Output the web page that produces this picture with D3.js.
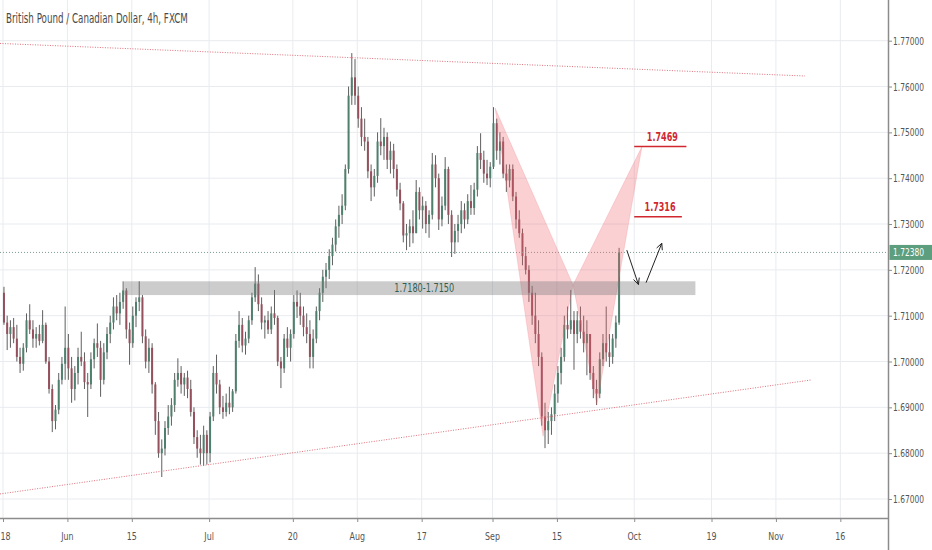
<!DOCTYPE html>
<html><head><meta charset="utf-8">
<script src="https://cdn.jsdelivr.net/npm/d3@7/dist/d3.min.js"></script>
<style>html,body{margin:0;padding:0;background:#fff;overflow:hidden}</style>
</head><body><svg id="c" width="932" height="550"></svg>
<script>
// ---- DATA (GBP/CAD, half-day candles) ----
const firstOpen = 1.7150;
const highs = [1.7163,1.7100,1.7090,1.7095,1.7080,1.7030,1.7040,1.7105,1.7125,1.7090,
1.7075,1.7080,1.7112,1.7085,1.7010,1.6950,1.6905,1.6975,1.7010,1.7120,
1.7060,1.7010,1.6990,1.7030,1.7065,1.7020,1.6975,1.7020,1.7050,1.7083,
1.7045,1.7040,1.7075,1.7100,1.7140,1.7145,1.7150,1.7175,1.7160,1.7085,
1.7120,1.7140,1.7175,1.7145,1.7070,1.7050,1.7040,1.6955,1.6890,1.6830,
1.6870,1.6905,1.6920,1.6975,1.7007,1.6990,1.6975,1.6980,1.6960,1.6900,
1.6850,1.6840,1.6860,1.6850,1.6890,1.6990,1.7015,1.6960,1.6925,1.6930,
1.6945,1.6940,1.7060,1.7110,1.7095,1.7065,1.7100,1.7150,1.7206,1.7190,
1.7140,1.7100,1.7110,1.7120,1.7156,1.7100,1.7010,1.7060,1.7075,1.7070,
1.7145,1.7155,1.7150,1.7120,1.7105,1.7090,1.7070,1.7120,1.7160,1.7200,
1.7215,1.7245,1.7270,1.7310,1.7340,1.7365,1.7430,1.7600,1.7673,1.7660,
1.7600,1.7555,1.7530,1.7490,1.7430,1.7420,1.7500,1.7531,1.7510,1.7500,
1.7480,1.7475,1.7430,1.7390,1.7350,1.7300,1.7310,1.7330,1.7396,1.7380,
1.7360,1.7350,1.7330,1.7455,1.7450,1.7410,1.7360,1.7446,1.7425,1.7330,
1.7300,1.7320,1.7350,1.7345,1.7365,1.7385,1.7390,1.7470,1.7498,1.7460,
1.7440,1.7435,1.7555,1.7530,1.7500,1.7490,1.7430,1.7430,1.7430,1.7370,
1.7330,1.7290,1.7250,1.7210,1.7165,1.7150,1.7090,1.7020,1.6910,1.6890,
1.6900,1.6950,1.6990,1.7030,1.7100,1.7120,1.7156,1.7110,1.7110,1.7120,
1.7100,1.7090,1.7060,1.6990,1.6960,1.7020,1.7060,1.7120,1.7060,1.7060,
1.7100,1.7248];
const lows = [1.7080,1.7025,1.7030,1.7040,1.7000,1.6975,1.6980,1.7020,1.7060,1.7030,
1.7030,1.7035,1.7040,1.6995,1.6930,1.6846,1.6852,1.6885,1.6950,1.6960,
1.6960,1.6910,1.6915,1.6950,1.6990,1.6940,1.6879,1.6940,1.6985,1.7010,
1.6923,1.6950,1.7005,1.7040,1.7070,1.7090,1.7080,1.7115,1.7050,1.6993,
1.7030,1.7075,1.7110,1.7040,1.6985,1.6975,1.6930,1.6840,1.6790,1.6748,
1.6795,1.6840,1.6860,1.6890,1.6945,1.6930,1.6925,1.6920,1.6880,1.6820,
1.6790,1.6775,1.6772,1.6775,1.6780,1.6870,1.6930,1.6885,1.6875,1.6880,
1.6885,1.6890,1.6930,1.7030,1.7020,1.7015,1.7040,1.7080,1.7130,1.7110,
1.7070,1.7050,1.7060,1.7060,1.7080,1.6990,1.6942,1.6975,1.7010,1.7000,
1.7050,1.7095,1.7080,1.7055,1.7040,1.6985,1.6985,1.7040,1.7090,1.7130,
1.7160,1.7180,1.7210,1.7240,1.7270,1.7300,1.7330,1.7410,1.7560,1.7560,
1.7510,1.7470,1.7460,1.7400,1.7350,1.7360,1.7390,1.7450,1.7440,1.7420,
1.7410,1.7400,1.7360,1.7330,1.7260,1.7243,1.7250,1.7258,1.7280,1.7310,
1.7290,1.7280,1.7270,1.7310,1.7380,1.7287,1.7295,1.7330,1.7300,1.7228,
1.7235,1.7260,1.7280,1.7290,1.7300,1.7320,1.7320,1.7360,1.7420,1.7390,
1.7385,1.7380,1.7420,1.7440,1.7430,1.7400,1.7370,1.7380,1.7350,1.7290,
1.7270,1.7210,1.7190,1.7130,1.7080,1.7040,1.6990,1.6860,1.6811,1.6820,
1.6840,1.6870,1.6910,1.6950,1.7000,1.7050,1.7060,1.6982,1.7040,1.7050,
1.7020,1.6970,1.6960,1.6920,1.6905,1.6920,1.6990,1.7000,1.6988,1.6995,
1.7030,1.7080];
const closes = [1.7085,1.7060,1.7075,1.7050,1.7010,1.6995,1.7030,1.7090,1.7070,1.7050,
1.7060,1.7045,1.7080,1.7000,1.6940,1.6870,1.6895,1.6960,1.6995,1.7030,
1.6985,1.6940,1.6975,1.7010,1.7000,1.6955,1.6950,1.7005,1.7040,1.7030,
1.6960,1.7020,1.7060,1.7085,1.7120,1.7105,1.7130,1.7155,1.7070,1.7040,
1.7100,1.7130,1.7140,1.7055,1.7000,1.7030,1.6950,1.6870,1.6800,1.6810,
1.6855,1.6880,1.6905,1.6960,1.6975,1.6950,1.6965,1.6940,1.6890,1.6835,
1.6810,1.6800,1.6840,1.6800,1.6880,1.6975,1.6950,1.6900,1.6890,1.6910,
1.6900,1.6935,1.7045,1.7080,1.7035,1.7050,1.7090,1.7140,1.7170,1.7125,
1.7085,1.7090,1.7070,1.7105,1.7095,1.7000,1.6985,1.7050,1.7030,1.7060,
1.7130,1.7120,1.7100,1.7075,1.7060,1.7010,1.7050,1.7110,1.7150,1.7185,
1.7200,1.7230,1.7255,1.7295,1.7320,1.7340,1.7420,1.7580,1.7620,1.7580,
1.7530,1.7490,1.7480,1.7415,1.7380,1.7405,1.7480,1.7470,1.7490,1.7440,
1.7460,1.7420,1.7375,1.7345,1.7275,1.7280,1.7295,1.7280,1.7370,1.7330,
1.7340,1.7300,1.7320,1.7430,1.7400,1.7310,1.7340,1.7420,1.7320,1.7260,
1.7285,1.7300,1.7330,1.7310,1.7350,1.7335,1.7375,1.7455,1.7440,1.7410,
1.7400,1.7425,1.7520,1.7460,1.7480,1.7410,1.7395,1.7420,1.7360,1.7310,
1.7280,1.7230,1.7200,1.7150,1.7100,1.7060,1.7010,1.6880,1.6850,1.6870,
1.6885,1.6930,1.6975,1.7010,1.7080,1.7070,1.7090,1.7060,1.7090,1.7065,
1.7040,1.7060,1.6975,1.6940,1.6930,1.7005,1.7040,1.7020,1.7010,1.7050,
1.7085,1.7238];

// axis ticks
const tickDays = [0,10,20,32,45,55,65,76,86,98,110,120,130];
const tickLabels = ["18","Jun","15","Jul","20","Aug","17","Sep","15","Oct","19","Nov","16"];
const priceTicks = [1.67,1.68,1.69,1.70,1.71,1.72,1.73,1.74,1.75,1.76,1.77];
const lastPrice = 1.7238;

// drawings (day index, price)
const patternDays = [76.4, 83.85, 88.5, 92.2, 99.2];       // X A B C D
const patternPrices = [1.7553, 1.6837, 1.7167, 1.6905, 1.7469];
const targetPrices = [1.7469, 1.7316];
const targetDays = [[98.0, 106.1], [98.0, 105.4]];
const zonePrices = [1.7175, 1.7145];
const zoneDays = [18.8, 107.5];
const zoneLabel = "1.7180-1.7150";
const trendTopDays = [-0.47, 124.5], trendTopPrices = [1.7694, 1.7623];
const trendBotDays = [-0.47, 125.6], trendBotPrices = [1.6711, 1.6960];
const arrow1Days = [96.85, 98.65], arrow1Prices = [1.7243, 1.7168];
const arrow2Days = [99.84, 102.28], arrow2Prices = [1.7172, 1.7258];
const title = "British Pound / Canadian Dollar, 4h, FXCM";

// ---- CHART ----
const W = 932, H = 550, plotR = 888, plotB = 518;
const svg = d3.select("#c");
const FONT = "'Liberation Sans Narrow','DejaVu Sans Condensed','Liberation Sans',Arial,sans-serif";
const x = d3.scaleLinear().domain([0, 137.4]).range([3, 888]);
const y = d3.scaleLinear().domain([1.67, 1.77]).range([499, 40.7]);

// place a text squeezed horizontally to a target width using a transform
function squeezed(parent, px, py, str, anchor, size, target, attrs) {
  const t = parent.append("text").attr("x", 0).attr("y", 0)
    .attr("text-anchor", anchor).attr("font-family", FONT).attr("font-size", size).text(str);
  Object.entries(attrs || {}).forEach(([k, v]) => t.attr(k, v));
  const w = t.node().getComputedTextLength();
  const s = Math.min(1, target / w);
  t.attr("transform", `translate(${px},${py}) scale(${s},1)`);
  return t;
}

svg.append("rect").attr("width", W).attr("height", H).attr("fill", "#fff");

// grid
const grid = svg.append("g");
grid.selectAll("line.v").data(tickDays).join("line")
  .attr("x1", d => x(d)).attr("x2", d => x(d)).attr("y1", 0).attr("y2", plotB)
  .attr("stroke", "#e8ebef").attr("stroke-width", 1);
grid.selectAll("line.h").data(priceTicks).join("line")
  .attr("x1", 0).attr("x2", plotR).attr("y1", d => y(d)).attr("y2", d => y(d))
  .attr("stroke", "#e8ebef").attr("stroke-width", 1);

svg.append("defs").append("clipPath").attr("id", "plot")
  .append("rect").attr("x", 0).attr("y", 0).attr("width", plotR).attr("height", plotB);
const plot = svg.append("g").attr("clip-path", "url(#plot)");

// candles
const candles = closes.map((c, k) => ({
  d: k / 2 + 0.15,
  o: k === 0 ? firstOpen : closes[k - 1],
  c: c, h: highs[k], l: lows[k]
}));
const upCol = "#4f806d", dnCol = "#94505c", wickCol = "#4d4d4d";
const cg = plot.append("g");
cg.selectAll("line.w").data(candles).join("line")
  .attr("x1", d => x(d.d)).attr("x2", d => x(d.d))
  .attr("y1", d => y(Math.max(d.h, d.o, d.c))).attr("y2", d => y(Math.min(d.l, d.o, d.c)))
  .attr("stroke", wickCol).attr("stroke-width", 0.9);
cg.selectAll("rect.b").data(candles).join("rect")
  .attr("x", d => x(d.d) - 1).attr("width", 2)
  .attr("y", d => y(Math.max(d.o, d.c)))
  .attr("height", d => Math.max(0.8, Math.abs(y(d.o) - y(d.c))))
  .attr("fill", d => d.c >= d.o ? upCol : dnCol);

// last price line
plot.append("line").attr("x1", 0).attr("x2", plotR)
  .attr("y1", y(lastPrice)).attr("y2", y(lastPrice))
  .attr("stroke", "#7f9d91").attr("stroke-width", 1).attr("stroke-dasharray", "1,2");

// trendlines
function seg(days, prices){ return d3.line()(days.map((d,i)=>[x(d), y(prices[i])])); }
plot.append("path").attr("d", seg(trendTopDays, trendTopPrices))
  .attr("stroke", "#e0707a").attr("fill", "none").attr("stroke-width", 1).attr("stroke-dasharray", "1,1.5");
plot.append("path").attr("d", seg(trendBotDays, trendBotPrices))
  .attr("stroke", "#e0707a").attr("fill", "none").attr("stroke-width", 1).attr("stroke-dasharray", "1,1.5");

// harmonic pattern triangles
const pts = patternDays.map((d, i) => [x(d), y(patternPrices[i])]);
plot.append("path").attr("d", d3.line()([pts[0], pts[1], pts[2]]) + "Z")
  .attr("fill", "rgba(238,98,110,0.3)").attr("stroke", "rgba(238,98,110,0.2)").attr("stroke-width", 1);
plot.append("path").attr("d", d3.line()([pts[2], pts[3], pts[4]]) + "Z")
  .attr("fill", "rgba(238,98,110,0.3)").attr("stroke", "rgba(238,98,110,0.2)").attr("stroke-width", 1);

// zone
plot.append("rect").attr("x", x(zoneDays[0])).attr("width", x(zoneDays[1]) - x(zoneDays[0]))
  .attr("y", y(zonePrices[0])).attr("height", y(zonePrices[1]) - y(zonePrices[0]))
  .attr("fill", "rgba(120,120,120,0.38)");
squeezed(plot, x(65.4), y((zonePrices[0] + zonePrices[1]) / 2) + 4, zoneLabel, "middle", 11.5, 60,
  {fill: "#2f5d50"});

// targets
targetPrices.forEach((p, i) => {
  plot.append("line").attr("x1", x(targetDays[i][0])).attr("x2", x(targetDays[i][1]))
    .attr("y1", y(p)).attr("y2", y(p)).attr("stroke", "#d0282e").attr("stroke-width", 1.5);
  squeezed(plot, (x(targetDays[i][0]) + x(targetDays[i][1])) / 2 + 2, y(p) - 6, p.toFixed(4),
    "middle", 11.5, 31, {fill: "#d0282e", "font-weight": "bold"});
});

// arrows
function arrow(days, prices) {
  const x1 = x(days[0]), y1 = y(prices[0]), x2 = x(days[1]), y2 = y(prices[1]);
  const a = Math.atan2(y2 - y1, x2 - x1), L = 7, s = 0.45;
  plot.append("line").attr("x1", x1).attr("y1", y1).attr("x2", x2).attr("y2", y2)
    .attr("stroke", "#222").attr("stroke-width", 1);
  plot.append("path").attr("d", d3.line()([
      [x2 - L * Math.cos(a - s), y2 - L * Math.sin(a - s)], [x2, y2],
      [x2 - L * Math.cos(a + s), y2 - L * Math.sin(a + s)]]))
    .attr("stroke", "#222").attr("fill", "none").attr("stroke-width", 1);
}
arrow(arrow1Days, arrow1Prices);
arrow(arrow2Days, arrow2Prices);

// axes lines
svg.append("line").attr("x1", plotR + 0.5).attr("x2", plotR + 0.5).attr("y1", 0).attr("y2", H)
  .attr("stroke", "#8c8c8c").attr("stroke-width", 1.5);
svg.append("line").attr("x1", 0).attr("x2", plotR).attr("y1", plotB + 0.5).attr("y2", plotB + 0.5)
  .attr("stroke", "#8c8c8c").attr("stroke-width", 1.5);

// y axis (ticks by d3 axis, labels squeezed)
const yAxis = svg.append("g").attr("transform", `translate(${plotR + 1},0)`)
  .call(d3.axisRight(y).tickValues(priceTicks).tickSize(3).tickFormat(""));
yAxis.select(".domain").remove();
yAxis.selectAll("line").attr("stroke", "#8c8c8c");
const fmt = d3.format(".5f");
priceTicks.forEach(p => squeezed(svg, plotR + 5, y(p) + 4, fmt(p), "start", 11, 31, {fill: "#555"}));

// x axis
const xAxis = svg.append("g").attr("transform", `translate(0,${plotB + 1})`)
  .call(d3.axisBottom(x).tickValues(tickDays).tickSize(3).tickFormat(""));
xAxis.select(".domain").remove();
xAxis.selectAll("line").attr("stroke", "#8c8c8c");
tickDays.forEach((d, i) => {
  const first = i === 0;
  const t = svg.append("text").attr("x", 0).attr("y", 0)
    .attr("text-anchor", first ? "start" : "middle").attr("font-family", FONT)
    .attr("font-size", 11).attr("fill", "#555").text(tickLabels[i]);
  t.attr("transform", `translate(${first ? 0.5 : x(d)},540) scale(0.8,1)`);
});

// last price label
svg.append("rect").attr("x", plotR + 1.5).attr("y", y(lastPrice) - 7.5).attr("width", W - plotR - 1.5).attr("height", 15)
  .attr("fill", "#5c9e7e");
squeezed(svg, plotR + 5, y(lastPrice) + 4, lastPrice.toFixed(5), "start", 11, 31, {fill: "#fff"});

// title
squeezed(svg, 6, 22.5, title, "start", 14, 182, {fill: "#4a4a4a"});
</script></body></html>
